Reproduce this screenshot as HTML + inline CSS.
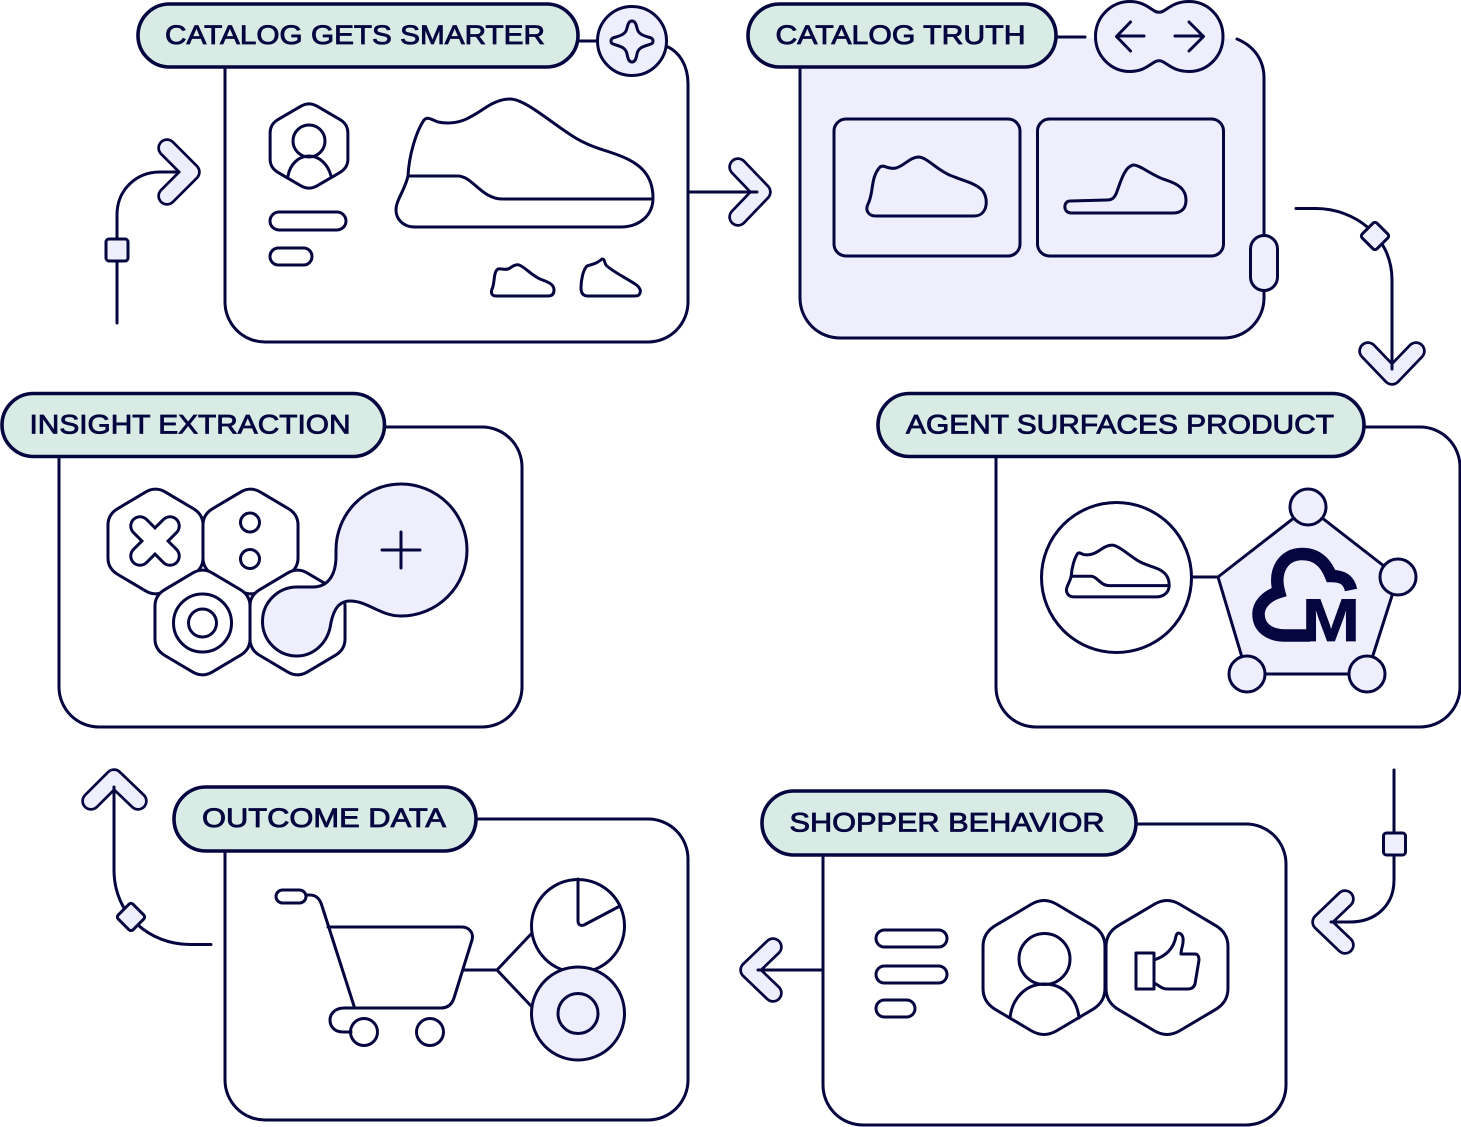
<!DOCTYPE html>
<html><head><meta charset="utf-8"><style>
html,body{margin:0;padding:0;background:#fff}
svg{display:block}
.s{fill:none;stroke:#05053f;stroke-width:3;stroke-linecap:round;stroke-linejoin:round}
.c{fill:#fff;stroke:#05053f;stroke-width:3;stroke-linejoin:round}
.l{fill:#eeeefd;stroke:#05053f;stroke-width:3;stroke-linejoin:round;stroke-linecap:round}
.p{fill:#d8ece5;stroke:#05053f;stroke-width:3.6}
.t{font-family:"Liberation Sans",sans-serif;font-size:27px;fill:#05053f;stroke:#05053f;stroke-width:.85}
.ch1{fill:none;stroke:#05053f;stroke-width:19.500;stroke-linecap:round;stroke-linejoin:round}
.ch2{fill:none;stroke:#eeeefd;stroke-width:14;stroke-linecap:round;stroke-linejoin:round}
</style></head><body>
<svg width="1461" height="1127" viewBox="0 0 1461 1127" xmlns="http://www.w3.org/2000/svg">
<defs>
<path id="hex" vector-effect="non-scaling-stroke" d="M-10 -51Q0 -57 10 -51L38 -34Q48 -28 48 -17L48 17Q48 28 38 34L10 51Q0 57 -10 51L-38 34Q-48 28 -48 17L-48 -17Q-48 -28 -38 -34Z"/>
<path id="shoe" vector-effect="non-scaling-stroke" d="M408 176C409 155 416 132 424 120C428 116 432 120 438 122C458 126 470 118 485 108C497 100 505 99 510 99C525 99 550 122 574 137C590 147 605 150 618 155C640 163 653 175 653 198C653 215 640 227 620 227H415C402 227 396 218 396 210C396 200 405 190 408 176Z"/>
<path id="shoeline" vector-effect="non-scaling-stroke" d="M408 176H458C472 176 482 199 502 199H652"/>
</defs>

<!-- Card 1 -->
<path class="s" fill="none" d="M225 68V302a40 40 0 0 0 40 40H648a40 40 0 0 0 40-40V84C688 66 680 52 666 46"/>
<rect class="p" x="138" y="4" width="440" height="63" rx="31.5"/>
<text class="t" x="165" y="44" textLength="380" lengthAdjust="spacingAndGlyphs">CATALOG GETS SMARTER</text>
<path class="s" d="M578 41H598"/>
<ellipse class="l" cx="632" cy="41" rx="34.500" ry="34.500"/>
<path class="s" d="M632 21C635 21 636 24 637 28C638 33 641 35 648 37C652 38 653 39 653 41C653 43 652 44 648 45C641 47 638 49 637 54C636 59 635 62 632 62C629 62 628 59 627 54C626 49 623 47 616 45C612 44 611 43 611 41C611 39 612 38 616 37C623 35 626 33 627 28C628 24 629 21 632 21Z"/>
<use href="#hex" class="s" transform="translate(309 146) scale(.81 .78)"/>
<circle class="s" cx="309" cy="141" r="16"/>
<path class="s" d="M288 176C290 164 299 156 309 156C319 156 328 164 331 176"/>
<rect class="s" x="270" y="212" width="76" height="18" rx="9"/>
<rect class="s" x="270" y="248" width="42" height="17" rx="8.500"/>
<use href="#shoe" class="s"/>
<use href="#shoeline" class="s"/>
<path class="s" d="M498 269C502 268 506 271 510 268C513 266 516 264 519 265C525 267 531 275 540 279C548 282 554 284 554 290C554 294 552 296 548 296H496C491 296 491 292 492 289C495 284 493 272 498 269Z"/>
<path class="s" d="M587 266C593 264 598 263 602 259C605 259 604 262 606 265C610 270 626 278 635 284C640 287 641 291 640 293C639 296 637 296 634 296H588C583 296 581 293 581 288C581 280 583 270 587 266Z"/>
<!-- arrow into card 1 -->
<path class="s" d="M117 323V215C117 190 136 172 160 172H178"/>
<rect class="l" x="106" y="239" width="22" height="22" rx="3"/>
<path class="ch1" d="M167 148L191 172L167 196"/><path class="ch2" d="M167 148L191 172L167 196"/>
<path class="s" d="M178 172H165"/>
<!-- arrow 1->2 -->
<path class="s" d="M688 192H757"/>
<path class="ch1" d="M738 167L762 192L738 217"/><path class="ch2" d="M738 167L762 192L738 217"/>
<path class="s" d="M688 192H757"/>

<!-- Card 2 -->
<path fill="#eeeefd" d="M800 38H1224a40 40 0 0 1 40 40V298a40 40 0 0 1-40 40H840a40 40 0 0 1-40-40Z"/>
<path class="s" d="M800 67V298a40 40 0 0 0 40 40H1224a40 40 0 0 0 40-40V78C1264 60 1254 46 1237 39"/>
<rect class="p" x="748" y="4" width="308" height="63" rx="31.500"/>
<text class="t" x="775.500" y="44" textLength="250" lengthAdjust="spacingAndGlyphs">CATALOG TRUTH</text>
<path class="s" d="M1057 37H1085"/>
<path class="l" d="M1130 1.500C1142 1.500 1148 7 1153 10C1157 13 1161 13 1165 10C1170 7 1176 1.500 1189 1.500C1208 1.500 1223 17 1223 36.500C1223 56 1208 71.500 1189 71.500C1176 71.500 1170 66 1165 63C1161 60 1157 60 1153 63C1148 66 1142 71.500 1130 71.500C1111 71.500 1095.500 56 1095.500 36.500C1095.500 17 1111 1.500 1130 1.500Z"/>
<path class="s" d="M1144 36H1117M1130.500 22L1116.500 36.500L1130.500 51M1175 36H1203M1189 22L1203.500 36.500L1189 51"/>
<rect class="s" x="834" y="119" width="186" height="137" rx="12"/>
<rect class="s" x="1037.500" y="119" width="186" height="137" rx="12"/>
<path class="s" d="M880 167C884 164 888 170 896 168C904 166 910 157 919 157C928 158 938 171 952 176C964 181 975 183 982 190C989 198 988 216 974 216H876C868 216 865 210 868 204C874 193 870 178 880 167Z"/>
<path class="s" d="M1070 201L1107 200C1112 200 1114 198 1116 194C1120 184 1124 167 1133 165C1141 165 1152 176 1166 180C1178 184 1186 189 1186 200C1186 208 1182 213 1173 213H1071C1063 213 1063 201 1070 201Z"/>
<rect class="l" x="1250.500" y="235.500" width="27" height="55" rx="13.500"/>
<!-- arrow 2->3 -->
<path class="s" d="M1296 208.500H1316C1354 208.500 1392 236 1392 280V366"/>
<rect class="l" x="1364.500" y="225.500" width="21" height="21" rx="3" transform="rotate(45 1375 236)"/>
<path class="ch1" d="M1368 351L1392 376L1416 351"/><path class="ch2" d="M1368 351L1392 376L1416 351"/>
<path class="s" d="M1392 340V369"/>

<!-- Card 3 -->
<path class="s" d="M996 457V687a40 40 0 0 0 40 40H1420a40 40 0 0 0 40-40V467a40 40 0 0 0-40-40H1365"/>
<rect class="p" x="878" y="393.500" width="486" height="63" rx="31.500"/>
<text class="t" x="906" y="433.500" textLength="428" lengthAdjust="spacingAndGlyphs">AGENT SURFACES PRODUCT</text>
<circle class="s" cx="1116.500" cy="577.500" r="75"/>
<g transform="matrix(.4 0 0 .405 908 505)"><use href="#shoe" class="s"/><use href="#shoeline" class="s"/></g>
<path class="s" d="M1192 577H1218"/>
<path class="l" d="M1218 577L1308 507L1398 577L1367 674H1247Z"/>
<circle class="l" cx="1308" cy="507" r="18"/>
<circle class="l" cx="1398" cy="577" r="18"/>
<circle class="l" cx="1367" cy="674" r="18"/>
<circle class="l" cx="1247" cy="674" r="18"/>
<path d="M1351 590C1349 580 1343 576 1331 576C1325 561 1316 554 1302 554C1284 554 1273 570 1279 592C1266 596 1258.500 605 1258.500 614C1258.500 628 1270 635.500 1285 635.500H1310" fill="none" stroke="#05053f" stroke-width="12.500"/>
<text x="1302" y="641" textLength="58" lengthAdjust="spacingAndGlyphs" style="font-family:'Liberation Sans',sans-serif;font-weight:bold;font-size:60px;fill:#05053f;stroke:#05053f;stroke-width:.8">M</text>
<!-- arrow 3->4 -->
<path class="s" d="M1394 770V880C1394 905 1376 922 1350 922H1330"/>
<rect class="l" x="1383.500" y="833" width="22" height="22" rx="3"/>
<path class="ch1" d="M1345 899L1321 922L1345 945"/><path class="ch2" d="M1345 899L1321 922L1345 945"/>
<path class="s" d="M1345 922H1331"/>

<!-- Card 4 -->
<path class="s" d="M823 855V1085a40 40 0 0 0 40 40H1246a40 40 0 0 0 40-40V864a40 40 0 0 0-40-40H1136"/>
<rect class="p" x="762" y="791" width="374" height="64" rx="32"/>
<text class="t" x="789.500" y="831.500" textLength="315" lengthAdjust="spacingAndGlyphs">SHOPPER BEHAVIOR</text>
<rect class="s" x="876" y="930" width="71" height="17" rx="8.500"/>
<rect class="s" x="876" y="966" width="71" height="17" rx="8.500"/>
<rect class="s" x="876" y="1000" width="39" height="17" rx="8.500"/>
<use href="#hex" class="s" transform="translate(1044 967.500) scale(1.27 1.24)"/>
<use href="#hex" class="s" transform="translate(1167 967.500) scale(1.27 1.24)"/>
<circle class="s" cx="1044.500" cy="959" r="25.500"/>
<path class="s" d="M1010 1018C1012 998 1026 984 1044.500 984C1063 984 1077 998 1079 1018"/>
<path class="s" d="M1136 953H1154V989H1136Z"/>
<path class="s" d="M1154 960C1166 956 1174 948 1176 936C1177 931 1182 933 1183 938C1184 944 1181 948 1181 954H1195C1198 954 1199 957 1199 960L1195 984C1194 987 1192 989 1188 989H1168C1161 989 1159 985 1154 983"/>
<!-- arrow 4->5 -->
<path class="s" d="M823 970H757"/>
<path class="ch1" d="M773 947L749 970L773 993"/><path class="ch2" d="M773 947L749 970L773 993"/>
<path class="s" d="M775 970H758"/>

<!-- Card 5 -->
<path class="s" d="M225 851V1080a40 40 0 0 0 40 40H648a40 40 0 0 0 40-40V859a40 40 0 0 0-40-40H476"/>
<rect class="p" x="174" y="787" width="302" height="64" rx="32"/>
<text class="t" x="202" y="827" textLength="244" lengthAdjust="spacingAndGlyphs">OUTCOME DATA</text>
<rect class="s" x="276" y="890" width="30" height="13" rx="6.500"/>
<path class="s" d="M306 895H310C316 895 320 899 322 906L354 1006"/>
<path class="s" d="M328 927H462C469 927 474 933 472 940L454 998C452 1004 448 1008 441 1008H344C335 1008 330 1014 330 1020C330 1027 335 1032 343 1032H351"/>
<circle class="s" cx="364" cy="1032" r="13.500"/>
<circle class="s" cx="430" cy="1032" r="13.500"/>
<path class="s" d="M464 970H497L532 933M497 970L532 1007"/>
<circle class="s" cx="578" cy="926" r="46.500"/>
<path class="s" d="M578 879V921C578 925 581 926 584 925L620 906"/>
<circle class="l" cx="578" cy="1013.500" r="46.500"/>
<circle class="l" cx="578" cy="1013.500" r="20"/>
<!-- arrow 5->6 -->
<path class="s" d="M211 944.500H190C150 944.500 114 915 114 870V790"/>
<rect class="l" x="120.500" y="906.500" width="21" height="21" rx="3" transform="rotate(45 131 917)"/>
<path class="ch1" d="M91 801L114 778L138 801"/><path class="ch2" d="M91 801L114 778L138 801"/>
<path class="s" d="M114 800V787"/>

<!-- Card 6 -->
<path class="s" d="M59 457V687a40 40 0 0 0 40 40H482a40 40 0 0 0 40-40V467a40 40 0 0 0-40-40H385"/>
<rect class="p" x="2" y="393.500" width="382.500" height="63" rx="31.500"/>
<text class="t" x="29.500" y="433.500" textLength="321" lengthAdjust="spacingAndGlyphs">INSIGHT EXTRACTION</text>
<use href="#hex" class="c" transform="translate(155.500 541.500) scale(.99 .97)"/>
<use href="#hex" class="c" transform="translate(250.500 541.500) scale(.99 .97)"/>
<use href="#hex" class="c" transform="translate(297.500 622.500) scale(.99 .97)"/>
<use href="#hex" class="c" transform="translate(202.500 622.500) scale(.99 .97)"/>
<path fill="none" stroke="#05053f" stroke-width="21.500" stroke-linecap="round" d="M140 526L170 556M170 526L140 556"/>
<path fill="none" stroke="#fff" stroke-width="15.500" stroke-linecap="round" d="M140 526L170 556M170 526L140 556"/>
<circle class="s" cx="250" cy="522.500" r="9.500"/>
<circle class="s" cx="250" cy="559" r="9.500"/>
<circle class="s" cx="202.500" cy="623" r="29"/>
<circle class="s" cx="202.500" cy="623" r="14"/>
<path class="l" d="M401 484A66 66 0 0 1 401 616C380 616 368 601 350 601C336 601 332 615 330 628C326 645 312 656 297 656A34.500 34.500 0 0 1 297 587L313 587C328 587 336 575 336 556L336 550A65 66 0 0 1 401 484Z"/>
<path class="s" d="M401 532V568M382 550H420"/>
</svg>
</body></html>
